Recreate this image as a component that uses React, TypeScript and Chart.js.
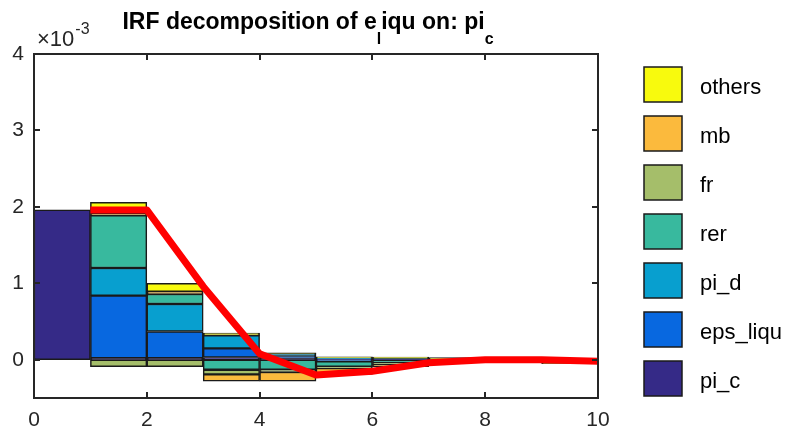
import React, { useEffect, useRef } from 'react';
import { Chart, registerables } from 'chart.js';
Chart.register(...registerables);

// ---- data (values in units of 1e-3) ----
const periods = [1, 2, 3, 4, 5, 6, 7, 8, 9, 10];
const seriesNames = ['pi_c', 'eps_liqu', 'pi_d', 'rer', 'fr', 'mb', 'others'];
const seriesColors = ['#352A87', '#0868E0', '#089FCF', '#38B99E', '#A5BE6A', '#FBBA3D', '#F8FA0D'];
const piC = [1.96, 0.02, 0.02, 0.03, 0.02, 0.01, 0.005, 0, 0, 0];
const epsLiqu = [0, 0.82, 0.35, 0.12, 0.03, -0.02, 0, 0, 0, 0];
const piD = [0, 0.36, 0.36, 0.17, 0.03, 0.01, 0.01, 0.01, 0, 0];
const rer = [0, 0.69, 0.13, -0.13, -0.13, -0.07, -0.04, -0.01, 0, -0.02];
const fr = [0, -0.09, -0.09, -0.06, -0.03, -0.02, -0.02, 0, 0, -0.01];
const mb = [0, 0.02, 0.03, -0.09, -0.12, -0.08, -0.03, 0, 0, 0];
const others = [0, 0.15, 0.11, 0.03, 0.01, 0.02, 0.02, 0.02, 0.005, -0.02];
const totalLine = [1.96, 1.96, 0.96, 0.08, -0.2, -0.15, -0.04, 0.0, 0.0, -0.02];
const xTicks = [0, 2, 4, 6, 8, 10];
const yTicks = [0, 1, 2, 3, 4];
const SCALE = 1e-3;
const Y_MIN = -0.5;
const Y_MAX = 4;
const seriesValues = [piC, epsLiqu, piD, rer, fr, mb, others];

const FONT = '"Liberation Sans", Arial, Helvetica, sans-serif';
const AXIS_COLOR = '#262626';

const decorPlugin = {
  id: 'decor',
  afterDatasetsDraw(chart: any) {
    const { ctx, chartArea } = chart;
    const { left, right, top, bottom } = chartArea;
    const xs = chart.scales.x;
    const ys = chart.scales.y;
    ctx.save();
    ctx.strokeStyle = AXIS_COLOR;
    ctx.lineWidth = 2;
    ctx.strokeRect(left, top, right - left, bottom - top);
    const tl = 6;
    ctx.beginPath();
    for (const v of xTicks) {
      const px = Math.round(xs.getPixelForValue(v));
      ctx.moveTo(px, bottom);
      ctx.lineTo(px, bottom - tl);
      ctx.moveTo(px, top);
      ctx.lineTo(px, top + tl);
    }
    for (const v of yTicks) {
      const py = Math.round(ys.getPixelForValue(v * SCALE));
      ctx.moveTo(left, py);
      ctx.lineTo(left + tl, py);
      ctx.moveTo(right, py);
      ctx.lineTo(right - tl, py);
    }
    ctx.stroke();
    ctx.restore();
  },
  afterDraw(chart: any) {
    const { ctx } = chart;
    ctx.save();
    // title with subscripts
    const parts = [
      { t: 'IRF decomposition of e', sub: false },
      { t: 'l', sub: true },
      { t: 'iqu on: pi', sub: false },
      { t: 'c', sub: true },
    ];
    const mainFont = `bold 23px ${FONT}`;
    const subFont = `bold 16px ${FONT}`;
    let total = 0;
    for (const p of parts) {
      ctx.font = p.sub ? subFont : mainFont;
      total += ctx.measureText(p.t).width;
    }
    let x = 308 - total / 2;
    ctx.fillStyle = '#000';
    ctx.textBaseline = 'alphabetic';
    ctx.textAlign = 'left';
    for (const p of parts) {
      ctx.font = p.sub ? subFont : mainFont;
      ctx.fillText(p.t, x, p.sub ? 44 : 29);
      x += ctx.measureText(p.t).width;
    }
    // exponent label
    ctx.fillStyle = AXIS_COLOR;
    ctx.font = `22px ${FONT}`;
    ctx.fillText('\u00d710', 37, 46);
    const w = ctx.measureText('\u00d710').width;
    ctx.font = `16px ${FONT}`;
    ctx.fillText('-3', 37 + w + 1, 34);

    // legend (reverse order)
    const bars = chart.data.datasets.filter((d: any) => d.type !== 'line');
    const items = bars.slice().reverse();
    items.forEach((d: any, i: number) => {
      const bx = 644;
      const by = 67 + i * 49;
      ctx.fillStyle = d.backgroundColor;
      ctx.fillRect(bx, by, 38, 35);
      ctx.strokeStyle = '#1a1a1a';
      ctx.lineWidth = 1.5;
      ctx.strokeRect(bx, by, 38, 35);
      ctx.fillStyle = '#000';
      ctx.font = `22px ${FONT}`;
      ctx.textBaseline = 'middle';
      ctx.fillText(d.label, 700, by + 21);
    });
    ctx.restore();
  },
};

export default function App() {
  const ref = useRef<HTMLCanvasElement | null>(null);
  useEffect(() => {
    if (!ref.current) return;
    const barDatasets = seriesNames.map((name, si) => ({
      type: 'bar' as const,
      label: name,
      data: periods.map((p, i) => ({
        x: p - 0.5,
        y: seriesValues[si][i] === 0 ? null : seriesValues[si][i] * SCALE,
      })),
      backgroundColor: seriesColors[si],
      borderColor: '#1a1a1a',
      borderWidth: 1.5,
      borderSkipped: false,
      barPercentage: 1,
      categoryPercentage: 1,
      stack: 'decomp',
    }));
    const lineDataset = {
      type: 'line' as const,
      label: 'total',
      data: periods.map((p, i) => ({ x: p, y: totalLine[i] * SCALE })),
      borderColor: '#FF0000',
      backgroundColor: '#FF0000',
      borderWidth: 7,
      pointRadius: 0,
      tension: 0,
      fill: false,
      borderJoinStyle: 'round' as const,
      stack: 'line',
    };
    const chart = new Chart(ref.current, {
      type: 'bar',
      data: { datasets: [lineDataset as any, ...barDatasets] },
      options: {
        responsive: false,
        animation: false,
        layout: { padding: { top: 54, right: 190, left: 0, bottom: 0 } },
        plugins: {
          legend: { display: false },
          title: { display: false },
          tooltip: { enabled: false },
        },
        scales: {
          x: {
            type: 'linear',
            min: 0,
            max: 10,
            offset: false,
            grid: { display: false, drawTicks: false, offset: false },
            border: { display: false },
            afterBuildTicks: (s: any) => {
              s.ticks = xTicks.map((v) => ({ value: v }));
            },
            afterFit: (s: any) => {
              s.height = 41;
            },
            ticks: {
              padding: 10,
              color: AXIS_COLOR,
              font: { family: FONT, size: 21 },
              maxRotation: 0,
              autoSkip: false,
            },
          },
          y: {
            type: 'linear',
            stacked: true,
            min: Y_MIN * SCALE,
            max: Y_MAX * SCALE,
            grid: { display: false, drawTicks: false },
            border: { display: false },
            afterBuildTicks: (s: any) => {
              s.ticks = yTicks.map((v) => ({ value: v * SCALE }));
            },
            afterFit: (s: any) => {
              s.width = 34;
            },
            ticks: {
              padding: 10,
              color: AXIS_COLOR,
              font: { family: FONT, size: 21 },
              callback: (v: any) => String(Math.round(Number(v) / SCALE)),
            },
          },
        },
      } as any,
      plugins: [decorPlugin],
    });
    return () => chart.destroy();
  }, []);
  return (
    <div style={{ position: 'absolute', left: 0, top: 0, width: 788, height: 439, background: '#fff' }}>
      <canvas ref={ref} width={788} height={439} style={{ width: 788, height: 439 }} />
    </div>
  );
}
